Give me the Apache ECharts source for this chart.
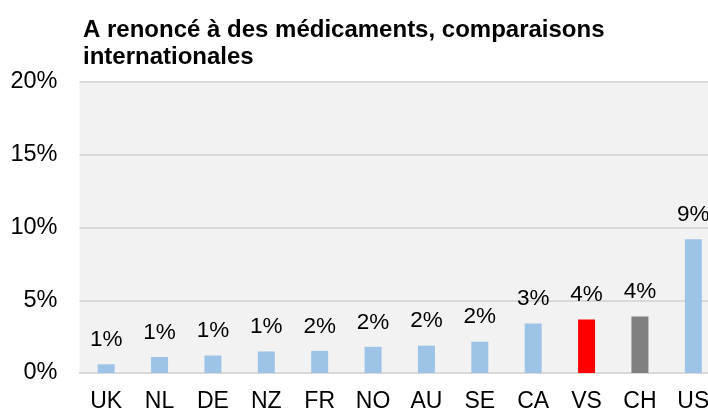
<!DOCTYPE html>
<html>
<head>
<meta charset="utf-8">
<script src="https://cdn.jsdelivr.net/npm/echarts@6/dist/echarts.min.js"></script>
<style>html,body{margin:0;padding:0;background:#fff;}#c{width:708px;height:410px;}</style>
</head>
<body>
<div id="c"></div>
<script>
var titleText = 'A renoncé à des médicaments, comparaisons\ninternationales';
var categories = ['UK','NL','DE','NZ','FR','NO','AU','SE','CA','VS','CH','US'];
var values = [0.6, 1.1, 1.2, 1.48, 1.52, 1.8, 1.88, 2.15, 3.4, 3.68, 3.88, 9.2];
var barColors = ['#9DC3E6','#9DC3E6','#9DC3E6','#9DC3E6','#9DC3E6','#9DC3E6','#9DC3E6','#9DC3E6','#9DC3E6','#FF0000','#808080','#9DC3E6'];
var yTicks = [0, 5, 10, 15, 20];

var chart = echarts.init(document.getElementById('c'), null, {renderer: 'canvas'});
var font = '"Liberation Sans", Arial, sans-serif';
chart.setOption({
  animation: false,
  backgroundColor: '#ffffff',
  title: {
    text: titleText,
    left: 83, top: 17, padding: 0,
    textStyle: {fontFamily: font, fontSize: 24, fontWeight: 'bold', color: '#000', lineHeight: 27}
  },
  grid: {
    left: 79.5, top: 82, width: 640.5, bottom: 37,
    outerBoundsMode: 'none',
    show: true, backgroundColor: '#F2F2F2', borderWidth: 0
  },
  xAxis: {
    type: 'category',
    data: categories,
    axisTick: {show: false},
    axisLine: {lineStyle: {color: '#D9D9D9', width: 2}},
    axisLabel: {fontFamily: font, fontSize: 23, color: '#000', margin: 17, interval: 0}
  },
  yAxis: {
    type: 'value',
    min: yTicks[0], max: yTicks[yTicks.length - 1], interval: 5,
    axisLine: {show: false},
    axisTick: {show: false},
    splitLine: {lineStyle: {color: '#D9D9D9', width: 2}},
    axisLabel: {fontFamily: font, fontSize: 23.5, color: '#000', margin: 22, formatter: '{value}%'}
  },
  series: [{
    type: 'bar',
    barWidth: 17,
    data: values.map(function (v, i) { return {value: v, itemStyle: {color: barColors[i]}}; }),
    label: {
      show: true, position: 'top', distance: 13,
      fontFamily: font, fontSize: 22.5, color: '#000',
      formatter: function (p) { return Math.round(p.value) + '%'; }
    }
  }]
});
</script>
</body>
</html>
